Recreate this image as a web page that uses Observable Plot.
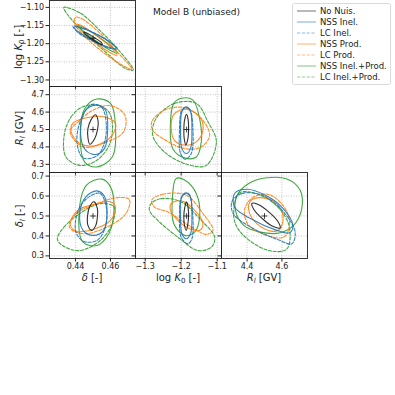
<!DOCTYPE html>
<html><head><meta charset="utf-8">
<script src="https://cdn.jsdelivr.net/npm/d3@7"></script>
<script src="https://cdn.jsdelivr.net/npm/@observablehq/plot@0.6"></script>
<style>
body{margin:0;background:#fff;}
#fig{position:relative;width:395px;height:395px;overflow:hidden;font-family:"DejaVu Sans",sans-serif;color:#222;background:#fff;}
.lab{position:absolute;font-size:10px;white-space:nowrap;line-height:1;color:#222;}
.lab sub{font-size:70%;vertical-align:-2px;line-height:0;}
.rot{transform:translate(-50%,-50%) rotate(-90deg);}
.hor{transform:translate(-50%,-50%);}
#title{position:absolute;left:153px;top:7px;font-size:9px;white-space:nowrap;color:#222;}
</style></head><body><div id="fig"><div id="title">Model B (unbiased)</div></div>
<script>
// ---- series ----
const seriesNames = ["No Nuis.", "NSS Inel.", "LC Inel.", "NSS Prod.", "LC Prod.", "NSS Inel.+Prod.", "LC Inel.+Prod."];
// ---- true parameter values (marked with +) ----
const truthDelta = 0.45, truthLogK0 = -1.185, truthRl = 4.5, truthDeltaL = 0.5;
// ---- tick values ----
const ticksDelta = [0.44, 0.46];
const ticksLogK0y = [-1.30, -1.25, -1.20, -1.15, -1.10];
const ticksLogK0x = [-1.3, -1.2, -1.1];
const ticksRl = [4.3, 4.4, 4.5, 4.6, 4.7];
const ticksRlx = [4.4, 4.6];
const ticksDeltaL = [0.3, 0.4, 0.5, 0.6, 0.7];

// ---- contours, order = seriesNames ----
// delta (x) vs log K0 (y)
const cDeltaLogK0 = [
 [[0.4553,-1.2019],[0.4548,-1.1971],[0.4504,-1.1821],[0.4458,-1.169],[0.4447,-1.1685],[0.4452,-1.1732],[0.4496,-1.1882],[0.4542,-1.2014]],
 [[0.4631,-1.212],[0.4604,-1.1981],[0.4522,-1.175],[0.4433,-1.157],[0.4392,-1.1546],[0.4420,-1.1685],[0.4502,-1.1917],[0.4590,-1.2097]],
 [[0.4640,-1.2145],[0.4608,-1.2000],[0.4520,-1.1735],[0.4428,-1.1550],[0.4385,-1.152],[0.4416,-1.170],[0.4505,-1.1945],[0.4595,-1.2125]],
 [[0.4637,-1.2315],[0.4612,-1.2148],[0.4533,-1.1824],[0.4447,-1.1537],[0.4406,-1.1463],[0.4431,-1.163],[0.4510,-1.1954],[0.4596,-1.224]],
 [[0.4400,-1.1273],[0.4438,-1.1318],[0.4543,-1.1727],[0.4648,-1.2273],[0.4724,-1.2709],[0.4667,-1.2591],[0.4543,-1.2182],[0.4438,-1.1727],[0.4394,-1.1436]],
 [[0.4639,-1.2259],[0.4612,-1.2111],[0.4535,-1.1824],[0.4455,-1.1574],[0.4416,-1.15],[0.4443,-1.1648],[0.4520,-1.1935],[0.4600,-1.2185]],
 [[0.4333,-1.100],[0.4429,-1.1164],[0.4543,-1.1655],[0.4648,-1.2182],[0.4730,-1.2727],[0.4686,-1.2682],[0.4571,-1.2227],[0.4448,-1.1682],[0.4352,-1.1182]]
];
// delta (x) vs R_l (y)
const cDeltaRl = [
 [[0.4514,4.5846],[0.4529,4.548],[0.4525,4.496],[0.4510,4.448],[0.4482,4.415],[0.4471,4.452],[0.4471,4.506],[0.4490,4.558]],
 [[0.4522,4.640],[0.4571,4.612],[0.4584,4.506],[0.4565,4.390],[0.4512,4.356],[0.4453,4.387],[0.4429,4.506],[0.4459,4.612]],
 [[0.4492,4.644],[0.4551,4.625],[0.4576,4.525],[0.4561,4.410],[0.4522,4.348],[0.4443,4.337],[0.4408,4.429],[0.4433,4.563]],
 [[0.4384,4.535],[0.4463,4.567],[0.4561,4.573],[0.4629,4.535],[0.4610,4.467],[0.4522,4.410],[0.4424,4.419],[0.4375,4.487]],
 [[0.4369,4.487],[0.4414,4.544],[0.4502,4.612],[0.4600,4.637],[0.4682,4.583],[0.4675,4.487],[0.4580,4.429],[0.4443,4.400]],
 [[0.4522,4.675],[0.4600,4.650],[0.4629,4.506],[0.4610,4.342],[0.4522,4.285],[0.4453,4.313],[0.4427,4.467],[0.4453,4.621]],
 [[0.4335,4.467],[0.4375,4.573],[0.4443,4.631],[0.4541,4.637],[0.4600,4.583],[0.4600,4.429],[0.4522,4.323],[0.4424,4.294],[0.4345,4.342]]
];
// delta (x) vs delta_l (y)
const cDeltaDeltaL = [
 [[0.4506,0.571],[0.4525,0.537],[0.4525,0.495],[0.4516,0.453],[0.4492,0.428],[0.4471,0.453],[0.4469,0.503],[0.4482,0.549]],
 [[0.4522,0.626],[0.4565,0.599],[0.4580,0.512],[0.4561,0.428],[0.4502,0.403],[0.4443,0.428],[0.4424,0.512],[0.4459,0.596]],
 [[0.4492,0.604],[0.4541,0.613],[0.4576,0.545],[0.4571,0.445],[0.4522,0.377],[0.4443,0.374],[0.4400,0.428],[0.4424,0.545]],
 [[0.4369,0.461],[0.4414,0.529],[0.4502,0.557],[0.4600,0.571],[0.4629,0.542],[0.4600,0.478],[0.4512,0.436],[0.4404,0.424]],
 [[0.4365,0.445],[0.4404,0.512],[0.4522,0.562],[0.4639,0.592],[0.4708,0.582],[0.4688,0.512],[0.4580,0.445],[0.4443,0.411]],
 [[0.4463,0.655],[0.4551,0.685],[0.4600,0.646],[0.4620,0.529],[0.4590,0.411],[0.4522,0.352],[0.4443,0.369],[0.4420,0.512]],
 [[0.4296,0.386],[0.4335,0.445],[0.4424,0.512],[0.4541,0.562],[0.4620,0.545],[0.4610,0.461],[0.4541,0.377],[0.4424,0.327],[0.4325,0.352]]
];
// log K0 (x) vs R_l (y)
const cLogK0Rl = [
 [[-1.1851,4.587],[-1.1805,4.554],[-1.1795,4.500],[-1.1814,4.448],[-1.187,4.413],[-1.1916,4.448],[-1.1926,4.500],[-1.1907,4.554]],
 [[-1.186,4.631],[-1.174,4.602],[-1.1702,4.500],[-1.174,4.390],[-1.186,4.362],[-1.1981,4.390],[-1.2019,4.500],[-1.1981,4.602]],
 [[-1.1907,4.625],[-1.1767,4.617],[-1.1674,4.500],[-1.1721,4.362],[-1.1888,4.329],[-1.2019,4.362],[-1.2047,4.500],[-1.2,4.602]],
 [[-1.2205,4.587],[-1.186,4.617],[-1.1488,4.573],[-1.1395,4.496],[-1.1581,4.429],[-1.1907,4.410],[-1.2186,4.438],[-1.2279,4.515]],
 [[-1.2819,4.544],[-1.2465,4.612],[-1.1907,4.625],[-1.1442,4.563],[-1.1209,4.467],[-1.1442,4.400],[-1.1907,4.390],[-1.2512,4.448],[-1.2791,4.496]],
 [[-1.2,4.679],[-1.1674,4.669],[-1.1488,4.563],[-1.1442,4.429],[-1.1581,4.342],[-1.1907,4.337],[-1.2233,4.390],[-1.2298,4.544],[-1.2205,4.650]],
 [[-1.2698,4.563],[-1.2186,4.650],[-1.1581,4.650],[-1.1256,4.544],[-1.1023,4.429],[-1.1302,4.294],[-1.1814,4.298],[-1.2465,4.371],[-1.2791,4.467]]
];
// log K0 (x) vs delta_l (y)
const cLogK0DeltaL = [
 [[-1.1851,0.571],[-1.1805,0.537],[-1.1795,0.500],[-1.1814,0.461],[-1.186,0.428],[-1.1916,0.461],[-1.1926,0.500],[-1.1907,0.537]],
 [[-1.1879,0.616],[-1.1749,0.596],[-1.1702,0.500],[-1.174,0.411],[-1.186,0.386],[-1.1981,0.411],[-1.2019,0.500],[-1.2,0.587]],
 [[-1.1953,0.604],[-1.1795,0.613],[-1.1684,0.512],[-1.1702,0.386],[-1.1814,0.361],[-1.2,0.394],[-1.2047,0.500],[-1.2019,0.579]],
 [[-1.2279,0.562],[-1.2,0.576],[-1.1628,0.529],[-1.1395,0.461],[-1.1488,0.428],[-1.1767,0.436],[-1.2093,0.478],[-1.2298,0.529]],
 [[-1.2819,0.579],[-1.2512,0.609],[-1.186,0.604],[-1.1395,0.512],[-1.1116,0.428],[-1.1302,0.408],[-1.1721,0.445],[-1.2372,0.520],[-1.2744,0.545]],
 [[-1.214,0.688],[-1.1907,0.680],[-1.1581,0.613],[-1.1488,0.495],[-1.1628,0.419],[-1.1907,0.403],[-1.2205,0.461],[-1.2242,0.596]],
 [[-1.2837,0.562],[-1.2558,0.587],[-1.2,0.571],[-1.1442,0.478],[-1.107,0.394],[-1.1163,0.344],[-1.1535,0.327],[-1.2093,0.394],[-1.2651,0.478],[-1.2884,0.529]]
];
// R_l (x) vs delta_l (y)
const cRlDeltaL = [
 [[4.5895,0.4403],[4.5781,0.4709],[4.5259,0.5195],[4.4634,0.5576],[4.4276,0.5630],[4.4390,0.5324],[4.4912,0.4839],[4.5533,0.4457]],
 [[4.328,0.613],[4.400,0.634],[4.505,0.604],[4.600,0.545],[4.663,0.453],[4.644,0.416],[4.571,0.428],[4.419,0.487],[4.328,0.545]],
 [[4.314,0.574],[4.371,0.613],[4.486,0.604],[4.610,0.520],[4.676,0.419],[4.657,0.3605],[4.590,0.377],[4.438,0.436],[4.320,0.512]],
 [[4.4229,0.579],[4.495,0.591],[4.571,0.562],[4.606,0.503],[4.590,0.436],[4.543,0.423],[4.457,0.461],[4.4095,0.529]],
 [[4.385,0.529],[4.429,0.591],[4.524,0.608],[4.619,0.537],[4.644,0.453],[4.610,0.394],[4.514,0.4025],[4.4095,0.453]],
 [[4.343,0.604],[4.4095,0.663],[4.514,0.6916],[4.629,0.685],[4.705,0.629],[4.714,0.537],[4.667,0.453],[4.590,0.416],[4.476,0.419],[4.381,0.453],[4.333,0.529]],
 [[4.324,0.529],[4.352,0.613],[4.4095,0.621],[4.543,0.571],[4.638,0.461],[4.629,0.335],[4.524,0.327],[4.390,0.394],[4.333,0.461]]
];

// ---- styles ----
const seriesColor = ["#1a1a1a", "#1f77b4", "#1f77b4", "#ff7f0e", "#ff7f0e", "#2ca02c", "#2ca02c"];
const seriesDash = [null, null, "3.2,1.6", null, "3.2,1.6", null, "3.2,1.6"];
const drawOrder = [6, 5, 4, 3, 2, 1, 0];

const domDelta = [0.4251, 0.4743];
const domLogK0y = [-1.318, -1.081];
const domLogK0x = [-1.327, -1.088];
const domRl = [4.253, 4.747];
const domDeltaL = [0.287, 0.718];

const fig = document.getElementById("fig");
const W = 86, H = 86, ML = 50, MT = 6, MR = 6, MB = 30;
const colL = [49, 135, 221], rowT = [0, 86, 172];
const blank = () => "";

function panel(cfg) {
  const marks = [
    Plot.ruleX(cfg.xTicks, {stroke: "#b8b8b8", strokeWidth: 0.8, strokeDasharray: "1,1.5"}),
    Plot.ruleY(cfg.yTicks, {stroke: "#b8b8b8", strokeWidth: 0.8, strokeDasharray: "1,1.5"})
  ];
  for (const i of drawOrder) {
    marks.push(Plot.line(cfg.contours[i], {
      x: d => d[0], y: d => d[1], curve: "catmull-rom-closed",
      stroke: seriesColor[i], strokeWidth: 1.1, strokeOpacity: 0.9,
      strokeDasharray: seriesDash[i] || undefined, clip: true
    }));
  }
  marks.push(Plot.dot([cfg.truth], {x: d => d[0], y: d => d[1], symbol: "plus", r: 2, stroke: "#111", strokeWidth: 0.8}));
  marks.push(Plot.frame({stroke: "#222", strokeWidth: 0.9}));
  const svg = Plot.plot({
    width: ML + W + MR, height: MT + H + MB,
    marginLeft: ML, marginTop: MT, marginRight: MR, marginBottom: MB,
    style: {background: "transparent", overflow: "visible", fontFamily: "DejaVu Sans", fontSize: "8px", color: "#222"},
    x: {domain: cfg.xDomain, ticks: cfg.xTicks, tickSize: 3.5, tickPadding: 1.5, tickFormat: cfg.showX ? cfg.xFmt : blank, label: null},
    y: {domain: cfg.yDomain, ticks: cfg.yTicks, tickSize: 3.5, tickPadding: 1.8, tickFormat: cfg.showY ? cfg.yFmt : blank, label: null},
    marks
  });
  svg.style.position = "absolute";
  svg.style.left = (cfg.left - ML) + "px";
  svg.style.top = (cfg.top - MT) + "px";
  fig.appendChild(svg);
}

const f2 = d3.format(".2f"), f1 = d3.format(".1f");
panel({left: colL[0], top: rowT[0], xDomain: domDelta, yDomain: domLogK0y, xTicks: ticksDelta, yTicks: ticksLogK0y,
  showX: false, showY: true, yFmt: f2, contours: cDeltaLogK0, truth: [truthDelta, truthLogK0]});
panel({left: colL[0], top: rowT[1], xDomain: domDelta, yDomain: domRl, xTicks: ticksDelta, yTicks: ticksRl,
  showX: false, showY: true, yFmt: f1, contours: cDeltaRl, truth: [truthDelta, truthRl]});
panel({left: colL[1], top: rowT[1], xDomain: domLogK0x, yDomain: domRl, xTicks: ticksLogK0x, yTicks: ticksRl,
  showX: false, showY: false, contours: cLogK0Rl, truth: [truthLogK0, truthRl]});
panel({left: colL[0], top: rowT[2], xDomain: domDelta, yDomain: domDeltaL, xTicks: ticksDelta, yTicks: ticksDeltaL,
  showX: true, xFmt: f2, showY: true, yFmt: f1, contours: cDeltaDeltaL, truth: [truthDelta, truthDeltaL]});
panel({left: colL[1], top: rowT[2], xDomain: domLogK0x, yDomain: domDeltaL, xTicks: ticksLogK0x, yTicks: ticksDeltaL,
  showX: true, xFmt: f1, showY: false, contours: cLogK0DeltaL, truth: [truthLogK0, truthDeltaL]});
panel({left: colL[2], top: rowT[2], xDomain: domRl, yDomain: domDeltaL, xTicks: ticksRlx, yTicks: ticksDeltaL,
  showX: true, xFmt: f1, showY: false, contours: cRlDeltaL, truth: [truthRl, truthDeltaL]});

// ---- axis labels ----
const labels = [
  {html: "log <i>K</i><sub>0</sub> [-]", x: 19, y: 47, cls: "rot"},
  {html: "<i>R</i><sub><i>l</i></sub> [GV]", x: 20, y: 128, cls: "rot"},
  {html: "<i>δ</i><sub><i>l</i></sub> [-]", x: 20, y: 216, cls: "rot"},
  {html: "<i>δ</i> [-]", x: 92, y: 277.5, cls: "hor"},
  {html: "log <i>K</i><sub>0</sub> [-]", x: 178, y: 277.5, cls: "hor"},
  {html: "<i>R</i><sub><i>l</i></sub> [GV]", x: 264, y: 277.5, cls: "hor"}
];
for (const l of labels) {
  const d = document.createElement("div");
  d.className = "lab " + l.cls;
  d.innerHTML = l.html;
  d.style.left = l.x + "px"; d.style.top = l.y + "px";
  fig.appendChild(d);
}

// ---- legend ----
const leg = d3.select(fig).append("svg")
  .style("position", "absolute").style("left", "0px").style("top", "0px")
  .attr("width", 395).attr("height", 395).style("pointer-events", "none");
leg.append("rect").attr("x", 292.5).attr("y", 3.5).attr("width", 98).attr("height", 81)
  .attr("rx", 2).attr("fill", "white").attr("fill-opacity", 0.8).attr("stroke", "#d0d0d0").attr("stroke-width", 0.8);
seriesNames.forEach((name, i) => {
  const y = 11 + i * 11;
  leg.append("line").attr("x1", 297).attr("x2", 316).attr("y1", y).attr("y2", y)
    .attr("stroke", seriesColor[i]).attr("stroke-opacity", 0.5).attr("stroke-width", 1.2)
    .attr("stroke-dasharray", seriesDash[i]);
  leg.append("text").attr("x", 320).attr("y", y).attr("dy", "0.35em")
    .attr("font-family", "DejaVu Sans").attr("font-size", 8.5).attr("fill", "#222").text(name);
});
</script></body></html>
